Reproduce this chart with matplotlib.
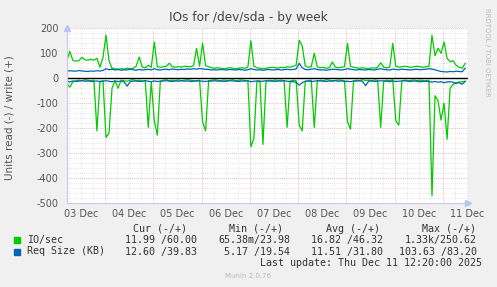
import numpy as np
import matplotlib
matplotlib.use("Agg")
import matplotlib.pyplot as plt

# samples every 1.5 h, days counted from 03 Dec 00:00
t_start = 0.2083
t_step = 0.0625

io_write = [70, 108, 72, 68, 70, 84, 74, 72, 76, 72,
            80, 44, 84, 172, 70, 40, 38, 36, 38, 37,
            40, 38, 40, 48, 85, 45, 42, 52, 44, 145,
            46, 44, 46, 48, 60, 46, 44, 46, 45, 48,
            47, 46, 50, 120, 48, 140, 50, 46, 42, 40,
            42, 40, 38, 40, 42, 40, 38, 40, 42, 40,
            44, 150, 48, 42, 40, 38, 40, 42, 44, 42,
            40, 44, 42, 46, 44, 48, 52, 152, 130, 50,
            44, 46, 100, 46, 42, 44, 40, 42, 65, 44,
            42, 44, 46, 140, 48, 44, 42, 40, 42, 40,
            38, 42, 40, 44, 62, 44, 42, 44, 140, 48,
            44, 46, 48, 46, 44, 46, 48, 46, 44, 46,
            48, 172, 90, 120, 100, 145, 80, 66, 70, 52,
            44, 40, 60]
io_read = [-20, -36, -15, -10, -8, -10, -6, -8, -10, -8,
           -211, -12, -10, -237, -219, -40, -10, -40, -8, -10,
           -12, -8, -6, -10, -8, -12, -10, -197, -14, -171,
           -228, -12, -8, -6, -10, -8, -9, -7, -10, -8,
           -6, -8, -10, -12, -8, -175, -211, -10, -8, -6,
           -8, -10, -7, -9, -8, -6, -10, -8, -7, -9,
           -10, -275, -241, -12, -10, -265, -14, -8, -10, -7,
           -9, -8, -10, -197, -12, -8, -10, -188, -211, -14,
           -10, -8, -197, -12, -8, -10, -6, -8, -10, -9,
           -7, -8, -10, -175, -204, -12, -8, -10, -6, -9,
           -8, -10, -7, -9, -197, -12, -8, -10, -6, -171,
           -188, -12, -8, -10, -9, -7, -10, -8, -9, -10,
           -8, -471, -70, -90, -168, -100, -245, -40, -25, -18,
           -15, -14, -12]
req_write = [28, 30, 29, 28, 31, 29, 28, 27, 29, 28,
             30, 29, 31, 38, 34, 36, 33, 35, 32, 34,
             33, 36, 34, 32, 35, 33, 34, 36, 33, 38,
             34, 33, 35, 36, 34, 37, 35, 34, 36, 35,
             37, 36, 38, 36, 39, 37, 36, 35, 33, 34,
             33, 35, 34, 33, 35, 34, 33, 35, 34, 32,
             34, 38, 35, 33, 34, 32, 34, 35, 33, 34,
             35, 33, 34, 36, 34, 35, 37, 60, 42, 35,
             34, 36, 38, 35, 33, 34, 32, 34, 36, 35,
             34, 33, 35, 38, 36, 34, 33, 35, 34, 33,
             35, 34, 33, 36, 38, 35, 34, 33, 36, 35,
             34, 36, 35, 34, 33, 35, 36, 34, 35, 36,
             38, 36, 34, 30, 27, 26, 25, 27, 26, 28,
             27, 26, 40]
req_read = [-12, -15, -11, -13, -12, -10, -12, -11, -13, -12,
            -11, -14, -12, -10, -12, -14, -11, -13, -12, -15,
            -32, -14, -12, -11, -13, -12, -10, -12, -14, -11,
            -13, -12, -11, -10, -12, -13, -11, -12, -10, -12,
            -11, -13, -12, -10, -11, -12, -13, -11, -12, -10,
            -12, -11, -13, -12, -10, -11, -12, -13, -11, -12,
            -10, -14, -12, -11, -13, -12, -10, -11, -12, -13,
            -11, -12, -10, -12, -13, -14, -16, -28, -18, -12,
            -11, -13, -12, -10, -11, -12, -13, -11, -12, -10,
            -12, -11, -13, -12, -14, -11, -12, -10, -13, -30,
            -12, -11, -13, -12, -10, -11, -12, -14, -11, -13,
            -12, -11, -10, -12, -13, -11, -12, -14, -13, -12,
            -14, -15, -13, -16, -14, -18, -15, -14, -16, -20,
            -18, -24, -13]

day_labels = ["03 Dec", "04 Dec", "05 Dec", "06 Dec", "07 Dec",
              "08 Dec", "09 Dec", "10 Dec", "11 Dec"]
y_ticks = [200, 100, 0, -100, -200, -300, -400, -500]

legend_rows = [
    ("IO/sec", "#00CC00", ["11.99 /60.00", "65.38m/23.98", "16.82 /46.32", "1.33k/250.62"]),
    ("Req Size (KB)", "#0066B3", ["12.60 /39.83", "5.17 /19.54", "11.51 /31.80", "103.63 /83.20"]),
]

t = t_start + t_step * np.arange(len(io_write))

fig = plt.figure(figsize=(4.97, 2.87), dpi=100, facecolor="#F0F0F0")
ax = fig.add_axes([66.76 / 497, 1 - 203 / 287, 401.5 / 497, 174.7 / 287])
ax.set_facecolor("white")
ax.set_xlim(0.2083, 8.5217)
ax.set_ylim(-500, 200)

# grid
for v in range(-480, 200, 20):
    if v % 100:
        ax.axhline(v, color="#DDDDDD", lw=0.6, ls=(0, (1, 1.5)), zorder=0)
for v in range(-400, 201, 100):
    ax.axhline(v, color="#E8A0A0", lw=0.6, ls=(0, (1, 1.5)), zorder=0)
for d in np.arange(0.25, 8.6, 0.25):
    if d % 1:
        ax.axvline(d, color="#DDDDDD", lw=0.6, ls=(0, (1, 1.5)), zorder=0)
for d in range(1, 9):
    ax.axvline(d, color="#E8A0A0", lw=0.6, ls=(0, (1, 1.5)), zorder=0)

ax.plot(t, io_write, color="#00CC00", lw=0.9)
ax.plot(t, io_read, color="#00CC00", lw=0.9)
ax.plot(t, req_write, color="#0066B3", lw=0.9)
ax.plot(t, req_read, color="#0066B3", lw=0.9)
ax.axhline(0, color="black", lw=1.0)

for s in ["top", "right"]:
    ax.spines[s].set_visible(False)
ax.spines["left"].set_color("#C8C8EE")
ax.spines["bottom"].set_color("#C8C8EE")
ax.set_yticks(y_ticks)
ax.set_yticklabels([str(v) for v in y_ticks], fontsize=7, color="#555555")
ax.tick_params(axis="y", length=0, pad=6)
ax.set_xticks([i + 0.5 for i in range(len(day_labels))])
ax.set_xticklabels(day_labels, fontsize=7, color="#555555")
ax.tick_params(axis="x", length=0, pad=4)
ax.plot([0.2083], [200], marker="^", color="#B8C4F0", ms=5, clip_on=False)
ax.plot([8.5217], [-500], marker=">", color="#B8C4F0", ms=5, clip_on=False)

ax.set_ylabel("Units read (-) / write (+)", fontsize=7.5, color="#555555")
ax.yaxis.set_label_coords(-0.130, 0.49)
fig.text(0.5, 1 - 18 / 287, "IOs for /dev/sda - by week", ha="center", va="center",
         fontsize=8.7, color="#444444")
fig.text(487 / 497, 1 - 52 / 287, "RRDTOOL / TOBI OETIKER", rotation=270, ha="center",
         va="center", fontsize=5, color="#BBBBBB")

mono = "DejaVu Sans Mono"
fs = 7.2
heads = [("Cur (-/+)", 187), ("Min (-/+)", 283), ("Avg (-/+)", 380), ("Max (-/+)", 476)]
for txt, xr in heads:
    fig.text(xr / 497, 1 - 228.5 / 287, txt, ha="right", va="center", family=mono,
             fontsize=fs, color="#333333")
col_right = [197, 290, 383, 477]
for k, (name, col, vals) in enumerate(legend_rows):
    yy = 1 - (239.5 + 12 * k) / 287
    fig.patches.append(plt.Rectangle((14 / 497, yy - 3 / 287), 6 / 497, 6 / 287,
                                     transform=fig.transFigure, color=col))
    fig.text(26.7 / 497, yy, name, ha="left", va="center", family=mono, fontsize=fs,
             color="#333333")
    for v, xr in zip(vals, col_right):
        fig.text(xr / 497, yy, v, ha="right", va="center", family=mono,
                 fontsize=fs, color="#333333")
fig.text(482 / 497, 1 - 263.5 / 287, "Last update: Thu Dec 11 12:20:00 2025", ha="right",
         va="center", family=mono, fontsize=fs, color="#333333")
fig.text(248 / 497, 1 - 276 / 287, "Munin 2.0.76", ha="center", va="center",
         fontsize=5, color="#BBBBBB")

fig.savefig("out.png", dpi=100, facecolor="#F0F0F0")
